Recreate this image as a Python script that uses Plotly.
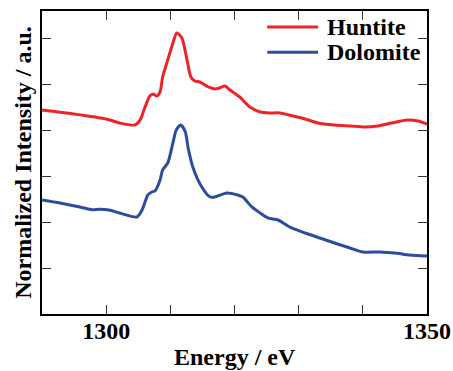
import plotly.graph_objects as go

# Huntite spectrum (energy in eV, normalized intensity, offset)
huntite_energy = [1290.0, 1295.0, 1300.0, 1302.1, 1304.5, 1305.3, 1306.0, 1306.8, 1307.3, 1307.9,
                  1308.4, 1308.8, 1309.6, 1310.4, 1311.0, 1311.8, 1312.6, 1313.2, 1313.8, 1314.6,
                  1315.9, 1316.9, 1317.7, 1318.5, 1319.3, 1320.8, 1322.4, 1324.0, 1325.5, 1327.1,
                  1329.1, 1331.0, 1333.0, 1335.6, 1338.0, 1340.3, 1342.3, 1344.5, 1346.9, 1348.6,
                  1350.0]
huntite_intensity = [4.444, 4.357, 4.248, 4.161, 4.118, 4.227, 4.488, 4.749, 4.793, 4.749,
                     4.837, 5.163, 5.534, 5.904, 6.122, 6.013, 5.534, 5.163, 5.076, 5.054,
                     4.946, 4.902, 4.924, 4.967, 4.880, 4.728, 4.510, 4.401, 4.379, 4.379,
                     4.314, 4.248, 4.161, 4.118, 4.096, 4.074, 4.096, 4.161, 4.227, 4.205,
                     4.139]

# Dolomite spectrum
dolomite_energy = [1290.0, 1292.8, 1295.9, 1297.8, 1299.0, 1300.6, 1302.1, 1304.8, 1305.6, 1306.5,
                   1307.1, 1307.6, 1308.4, 1308.8, 1309.6, 1310.4, 1310.9, 1311.6, 1312.3, 1312.8,
                   1313.5, 1314.9, 1316.2, 1316.9, 1318.8, 1320.5, 1321.3, 1322.7, 1324.0, 1325.2,
                   1326.8, 1328.6, 1331.0, 1333.3, 1335.6, 1338.0, 1340.0, 1342.6, 1345.0, 1347.3,
                   1350.0]
dolomite_intensity = [2.484, 2.418, 2.331, 2.270, 2.280, 2.260, 2.200, 2.113, 2.266, 2.593,
                      2.658, 2.680, 2.919, 3.137, 3.290, 3.725, 4.000, 4.118, 3.980, 3.600,
                      3.203, 2.767, 2.549, 2.549, 2.636, 2.593, 2.549, 2.331, 2.200, 2.092,
                      2.048, 1.895, 1.765, 1.656, 1.547, 1.438, 1.351, 1.351, 1.329, 1.285,
                      1.264]

x_tick_values = [1300, 1310, 1320, 1330, 1340, 1350]
x_tick_labels = ["1300", "", "", "", "", "1350"]
series_names = ["Huntite", "Dolomite"]
series_colors = ["#ee2227", "#2d4ca0"]

FONT = "Liberation Serif"

fig = go.Figure()
for name, xs, ys, col in zip(series_names,
                             [huntite_energy, dolomite_energy],
                             [huntite_intensity, dolomite_intensity],
                             series_colors):
    fig.add_trace(go.Scatter(x=xs, y=ys, mode="lines", name=name,
                             line=dict(color=col, width=3, shape="spline", smoothing=0.7),
                             showlegend=False))

# Legend drawn as line samples plus labels
legend_y = [0.947, 0.864]
for name, col, ly in zip(series_names, series_colors, legend_y):
    fig.add_shape(type="line", xref="paper", yref="paper",
                  x0=0.585, x1=0.717, y0=ly, y1=ly,
                  line=dict(color=col, width=3))
    fig.add_annotation(text="<b>%s</b>" % name, xref="paper", yref="paper",
                       x=0.734, y=ly, xanchor="left", yanchor="middle",
                       showarrow=False, font=dict(family=FONT, size=24, color="black"))

# x-axis title placed below the tick labels
fig.add_annotation(text="<b>Energy / eV</b>", xref="paper", yref="paper",
                   x=0.5, y=-0.142, xanchor="center", yanchor="middle",
                   showarrow=False, font=dict(family=FONT, size=24, color="black"))

fig.update_layout(
    width=453, height=371,
    margin=dict(l=42, r=26, t=11, b=57),
    plot_bgcolor="white", paper_bgcolor="white",
    font=dict(family=FONT, size=24, color="black"),
)
fig.update_xaxes(
    range=[1290, 1350], tickvals=x_tick_values, ticktext=x_tick_labels,
    ticks="inside", ticklen=9, tickwidth=1, tickcolor="#333",
    showline=True, linecolor="black", linewidth=2, mirror="ticks",
    showgrid=False, zeroline=False, automargin=False, ticklabelstandoff=-6,
    tickfont=dict(family=FONT, size=24, color="black", weight="bold"),
)
fig.update_yaxes(
    range=[0, 6.6], dtick=1, tick0=0, showticklabels=False,
    ticks="inside", ticklen=9, tickwidth=1, tickcolor="#333",
    showline=True, linecolor="black", linewidth=1.5, mirror="ticks",
    showgrid=False, zeroline=False, automargin=False,
    title=dict(text="<b>Normalized Intensity / a.u.</b>", font=dict(family=FONT, size=24), standoff=2),
)

fig.write_html("out.html")
